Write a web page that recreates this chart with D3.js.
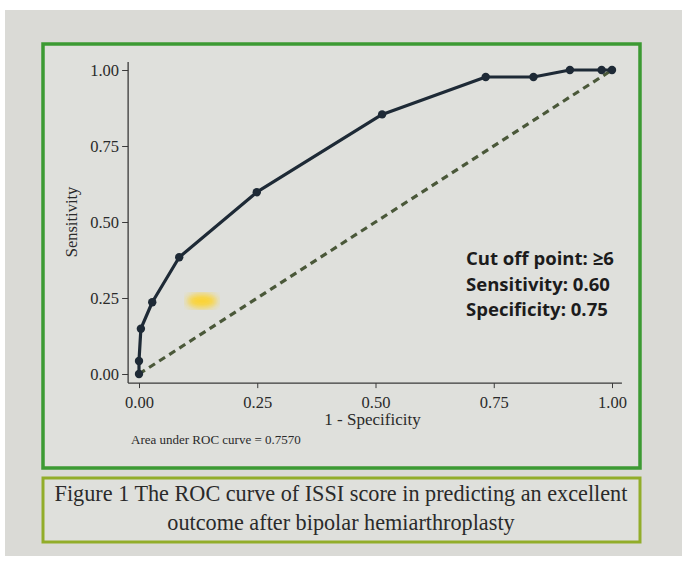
<!DOCTYPE html>
<html>
<head>
<meta charset="utf-8">
<script src="https://cdn.jsdelivr.net/npm/d3@7"></script>
<style>
  html, body { margin: 0; padding: 0; background: #ffffff; }
  svg { display: block; }
</style>
</head>
<body>
<svg id="chart" width="682" height="569"></svg>
<script>
// ---- data ----
const fpr = [0, 0, 0.004, 0.028, 0.085, 0.249, 0.514, 0.733, 0.834, 0.911, 0.978, 1.0];
const tpr = [0, 0.043, 0.149, 0.236, 0.384, 0.598, 0.854, 0.977, 0.977, 1.0, 1.0, 1.0];
const referenceLine = [[0, 0], [1, 1]];
const xTicks = [0, 0.25, 0.5, 0.75, 1];
const yTicks = [0, 0.25, 0.5, 0.75, 1];
const xTitle = "1 - Specificity";
const yTitle = "Sensitivity";
const aucNote = "Area under ROC curve = 0.7570";
const cutoffLines = ["Cut off point: \u22656", "Sensitivity: 0.60", "Specificity: 0.75"];
const captionLines = ["Figure 1 The ROC curve of ISSI score in predicting an excellent",
                      "outcome after bipolar hemiarthroplasty"];

// ---- drawing ----
const svg = d3.select("#chart");
const serif = "'Liberation Serif', 'Times New Roman', serif";

// photo background
svg.append("rect").attr("x", 5).attr("y", 10).attr("width", 677).attr("height", 546)
  .attr("fill", "#dadad6");

const defs = svg.append("defs");
defs.append("filter").attr("id", "blur").append("feGaussianBlur").attr("stdDeviation", 3.5);

// outer green frame
svg.append("rect").attr("x", 43).attr("y", 44).attr("width", 597).attr("height", 424)
  .attr("fill", "#dfe0dc").attr("stroke", "#3c9a33").attr("stroke-width", 3.5);

// caption frame
svg.append("rect").attr("x", 43).attr("y", 478).attr("width", 597).attr("height", 64)
  .attr("fill", "#dfe0dc").attr("stroke", "#92ad2a").attr("stroke-width", 3);

const x = d3.scaleLinear().domain([0, 1]).range([139, 612]);
const y = d3.scaleLinear().domain([0, 1]).range([374, 70]);

const axisColor = "#3a3a3a";
const xAxisY = y(-0.03);
const yAxisX = x(-0.023);

// axis lines
svg.append("line").attr("x1", yAxisX).attr("x2", x(1.021)).attr("y1", xAxisY).attr("y2", xAxisY)
  .attr("stroke", axisColor).attr("stroke-width", 1.3);
svg.append("line").attr("x1", yAxisX).attr("x2", yAxisX).attr("y1", xAxisY).attr("y2", y(1.026))
  .attr("stroke", axisColor).attr("stroke-width", 1.3);

// x axis
const gx = svg.append("g").attr("transform", `translate(0,${xAxisY})`)
  .call(d3.axisBottom(x).tickValues(xTicks).tickFormat(d3.format(".2f")).tickSize(5).tickPadding(8));
gx.select(".domain").remove();
gx.selectAll("line").attr("stroke", axisColor);
gx.selectAll("text").attr("font-family", serif).attr("font-size", 16.5).attr("fill", "#2a2a2a");

// y axis
const gy = svg.append("g").attr("transform", `translate(${yAxisX},0)`)
  .call(d3.axisLeft(y).tickValues(yTicks).tickFormat(d3.format(".2f")).tickSize(6).tickPadding(3));
gy.select(".domain").remove();
gy.selectAll("line").attr("stroke", axisColor);
gy.selectAll("text").attr("font-family", serif).attr("font-size", 16.5).attr("fill", "#2a2a2a");

// axis titles
svg.append("text").attr("x", x(0.5) - 3).attr("y", 425).attr("text-anchor", "middle")
  .attr("font-family", serif).attr("font-size", 17).attr("fill", "#2a2a2a").text(xTitle);
svg.append("text").attr("transform", `translate(77,${y(0.5)}) rotate(-90)`).attr("text-anchor", "middle")
  .attr("font-family", serif).attr("font-size", 16.5).attr("fill", "#2a2a2a").text(yTitle);

// AUC note
svg.append("text").attr("x", 131).attr("y", 444)
  .attr("font-family", serif).attr("font-size", 13).attr("fill", "#2a2a2a").text(aucNote);

// glare spot
svg.append("ellipse").attr("cx", 202).attr("cy", 301).attr("rx", 15).attr("ry", 7)
  .attr("fill", "#ffd21a").attr("opacity", 0.9).attr("filter", "url(#blur)");

// reference diagonal
svg.append("line")
  .attr("x1", x(referenceLine[0][0])).attr("y1", y(referenceLine[0][1]))
  .attr("x2", x(referenceLine[1][0])).attr("y2", y(referenceLine[1][1]))
  .attr("stroke", "#4a5839").attr("stroke-width", 3.2).attr("stroke-dasharray", "7,5");

// ROC curve
const pts = fpr.map((f, i) => [f, tpr[i]]);
svg.append("path").datum(pts)
  .attr("d", d3.line().x(d => x(d[0])).y(d => y(d[1])))
  .attr("fill", "none").attr("stroke", "#1e2a36").attr("stroke-width", 3.2)
  .attr("stroke-linejoin", "round");
svg.selectAll("circle.pt").data(pts).enter().append("circle").attr("class", "pt")
  .attr("cx", d => x(d[0])).attr("cy", d => y(d[1])).attr("r", 4.2)
  .attr("fill", "#1e2a36");

// cut-off annotation
const ann = svg.append("g");
cutoffLines.forEach((t, i) => {
  ann.append("text").attr("x", 466).attr("y", 265 + i * 25.5)
    .attr("font-family", "'Open Sans', Lato, sans-serif").attr("font-weight", "bold")
    .attr("font-size", 17).attr("fill", "#1c1c1c").text(t);
});
const aw = ann.select("text").node().getComputedTextLength();
ann.selectAll("text").attr("font-size", Math.max(15, Math.min(20, 17 * 148 / aw)));

// caption
const capSize = 22;
const cap = svg.append("g");
captionLines.forEach((t, i) => {
  cap.append("text").attr("x", 341).attr("y", 501 + i * 28.5).attr("text-anchor", "middle")
    .attr("font-family", serif).attr("font-size", capSize).attr("fill", "#2a2a2a").text(t);
});
const w0 = cap.select("text").node().getComputedTextLength();
const fit = capSize * 573 / w0;
cap.selectAll("text").attr("font-size", Math.min(fit, 24));
</script>
</body>
</html>
